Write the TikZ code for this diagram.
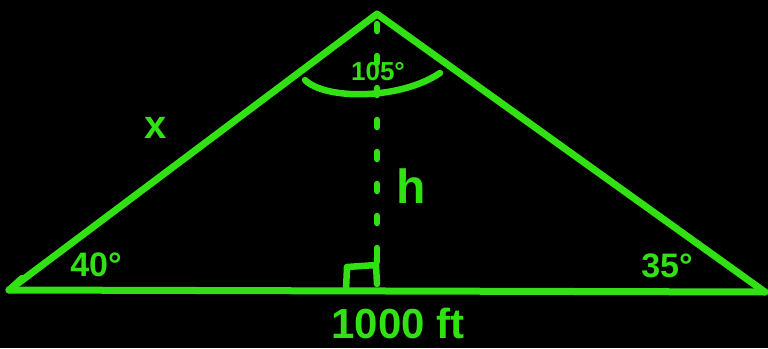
\documentclass[tikz,border=0pt]{standalone}
\usepackage{fontspec}
\setmainfont{Liberation Sans}
\usepackage{tikz}
\definecolor{chalk}{RGB}{50,225,20}
\tikzset{
  side/.style={draw=chalk, line width=7pt, line cap=round, line join=round},
  stroke/.style={draw=chalk, line width=6.5pt, line cap=round, line join=round},
  lbl/.style={text=chalk, inner sep=0pt, font=\bfseries}
}

\begin{document}
\begin{tikzpicture}[x=1pt, y=-1pt]
		% Background
		\fill[black] (0,0) rectangle (768,348);
		\useasboundingbox (0,0) rectangle (768,348);

		% Vertices
		\coordinate (A) at (9,290);
		\coordinate (B) at (377,14);
		\coordinate (C) at (765,292);
		\coordinate (D) at (377,291);

		% Triangle
		\draw[side] (A) -- (B) -- (C);
		\draw[side] (A) -- (C);
		\draw[stroke] (A) -- (22,278);

		% Height
		\draw[stroke, dash pattern=on 7pt off 25pt] (B) ++(0,10) -- (377,258);

		% Right angle marker
		\draw[stroke] (346,290) -- (347,267) -- (376,265) -- (377,284);
		\draw[stroke] (377,250) -- (377,262);

		% Angle arc at the top
		\draw[stroke] (305,80) .. controls (325,100) and (400,100) .. (440,73);

		% Labels
		\node[lbl, font=\bfseries\fontsize{26}{26}\selectfont] (top) at (378,72) {105°};
		\node[lbl, font=\bfseries\fontsize{40}{40}\selectfont] (xlab) at (156,128) {x};
		\node[lbl, font=\bfseries\fontsize{48}{48}\selectfont] (hlab) at (411,186) {h};
		\node[lbl, font=\bfseries\fontsize{34}{34}\selectfont] (left) at (96,265) {40°};
		\node[lbl, font=\bfseries\fontsize{34}{34}\selectfont] (right) at (667,266) {35°};
		\node[lbl, font=\bfseries\fontsize{42}{42}\selectfont] (base) at (398,323) {1000 ft};
	\end{tikzpicture}
\end{document}
